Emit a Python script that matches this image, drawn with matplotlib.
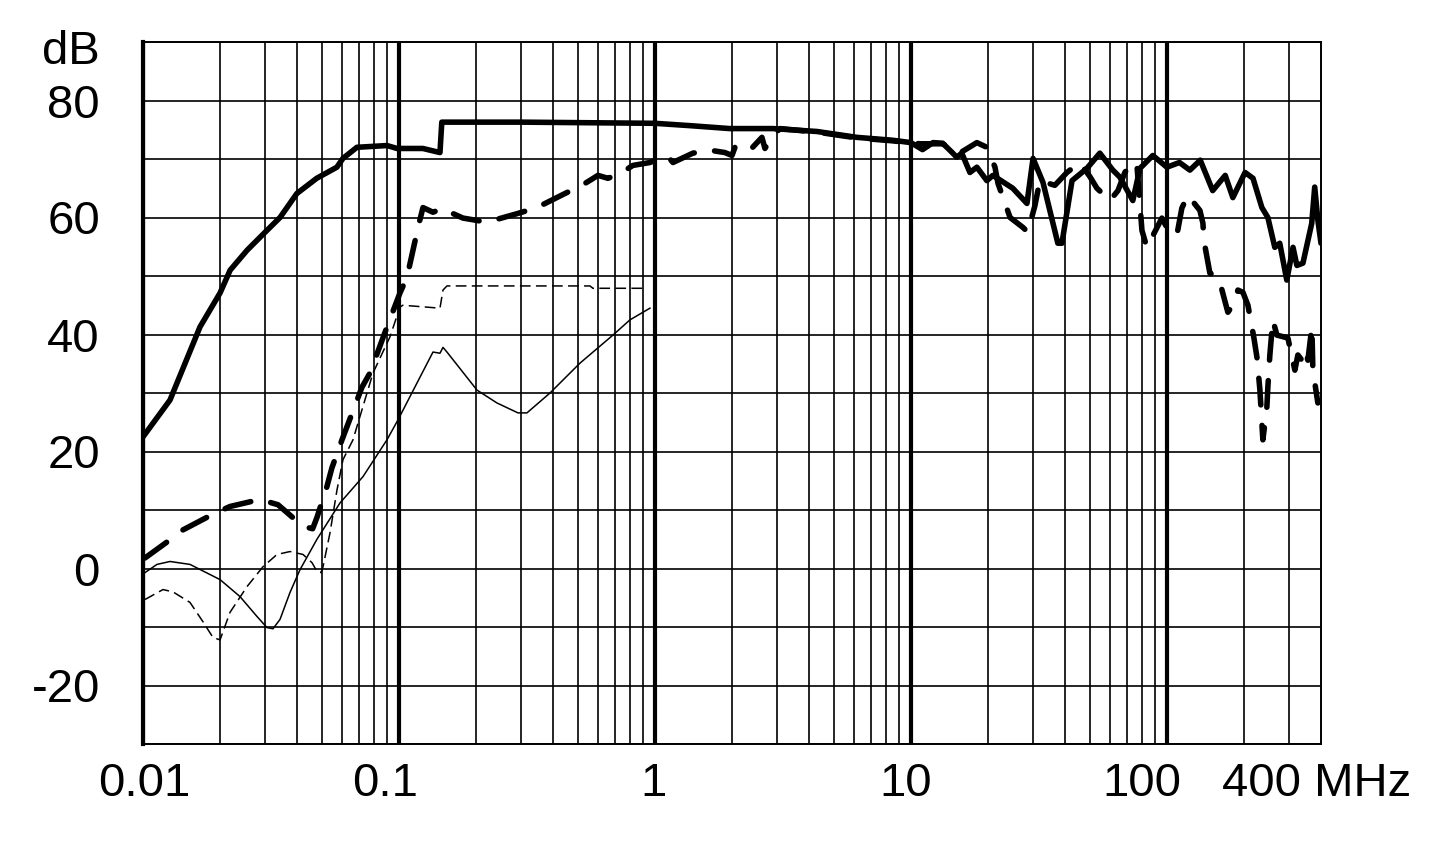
import matplotlib.pyplot as plt
from matplotlib.ticker import FixedLocator, NullFormatter

plt.rcParams['font.family'] = ['Liberation Sans', 'DejaVu Sans']

# ---- data (MHz, dB) ----
# thick solid curve
solid_f = [0.01, 0.01275, 0.0167, 0.0200, 0.0219, 0.0255, 0.0305, 0.0343, 0.0399,
           0.0477, 0.0572, 0.0604, 0.0685, 0.0898, 0.0983, 0.124, 0.1446, 0.147,
           0.30, 0.55, 1.0, 1.37, 1.96, 2.89, 4.30, 6.15, 8.5, 10.0, 11.1, 12.2,
           13.3, 14.5, 15.1, 15.8, 17.0, 18.1, 19.8, 20.9, 25.0, 28.4, 30.0, 32.8,
           37.5, 38.9, 42.6, 48.7, 54.7, 61.5, 65.5, 73.6, 78.5, 88.1, 100, 112,
           123, 135, 151, 169, 181, 202, 217, 235, 248, 264, 276, 294, 311, 322,
           340, 368, 378, 389, 400]
solid_db = [22.5, 28.8, 41.3, 47.1, 51.0, 54.4, 57.8, 60.0, 64.1,
            66.7, 68.6, 70.1, 72.0, 72.3, 71.8, 71.8, 71.1, 76.3,
            76.3, 76.2, 76.1, 75.7, 75.2, 75.2, 74.7, 73.7, 73.2, 72.8, 71.6, 72.8,
            72.7, 71.1, 70.3, 71.0, 67.7, 68.6, 66.3, 67.2, 65.0, 62.4, 70.1, 66.0,
            55.6, 55.6, 66.3, 68.4, 71.0, 68.1, 66.9, 62.9, 68.4, 70.6, 68.6, 69.4,
            68.1, 69.8, 64.6, 67.2, 63.4, 67.7, 66.7, 61.7, 60.0, 54.9, 55.6, 49.3, 54.9, 51.8,
            52.2, 59.0, 65.2, 59.5, 55.6]

# thick dashed curve
dash_f = [0.01018, 0.01275, 0.01433, 0.0186, 0.02187, 0.02864, 0.03368, 0.04217, 0.0460,
          0.0478, 0.0523, 0.0547, 0.0599, 0.0717, 0.0770, 0.0898, 0.1009, 0.1075,
          0.1187, 0.1241, 0.1358, 0.1486, 0.1582, 0.1778, 0.1894, 0.2207, 0.2917,
          0.346, 0.445, 0.5185, 0.599, 0.655, 0.730, 0.820, 0.956, 1.114, 1.176,
          1.407, 1.640, 1.877, 2.0, 2.054, 2.288, 2.350, 2.618, 2.690, 2.891, 3.08,
          4.30, 6.15, 8.5, 10.84, 13.3, 15.5, 18.1, 19.8, 21.3, 21.9, 24.4, 27.4,
          28.6, 30.5, 31.9, 36.5, 40.7, 45.7, 50.0, 53.3, 59.9, 64.4, 68.5, 73.6,
          76.3, 79.9, 83.5, 95.6, 102.7, 109.4, 114.4, 120.8, 134.6, 138.3, 139.5,
          147.2, 159.6, 173.1, 184.3, 189.4, 198.2, 207.3, 218.8, 224.8, 230.9,
          237.1, 245.8, 248.0, 252.5, 259.4, 268.9, 297.0, 316.2, 324.9, 336.8,
          346.0, 355.5, 368.5, 371.8, 388.9]
dash_db = [1.8, 4.9, 6.6, 9.2, 10.6, 11.8, 10.9, 7.2, 6.8,
           8.7, 14.0, 17.2, 22.0, 31.0, 33.4, 41.3, 47.1, 49.8,
           58.3, 61.7, 60.9, 61.6, 60.9, 59.9, 59.7, 59.2, 60.7,
           61.7, 64.1, 65.5, 67.2, 66.7, 67.5, 68.9, 69.4, 70.6, 69.4,
           71.0, 71.5, 71.1, 70.6, 72.0, 72.0, 71.5, 73.7, 71.8, 74.0, 75.2,
           74.6, 73.6, 73.1, 72.6, 72.6, 71.0, 72.8, 72.0, 68.6, 65.8, 60.0, 58.3,
           57.5, 62.0, 66.3, 65.5, 67.7, 69.4, 67.0, 65.0, 62.9, 64.6, 67.7, 69.4,
           69.2, 57.8, 54.9, 59.9, 57.3, 57.0, 61.6, 63.8, 61.2, 59.0, 56.1,
           50.5, 49.6, 43.8, 45.5, 47.6, 47.2, 45.0, 39.4, 36.1, 30.5,
           22.0, 27.6, 31.0, 36.5, 42.5, 39.9, 39.4, 33.9, 36.5, 35.6,
           37.3, 35.6, 41.3, 33.9, 28.3]

# thin dashed curve
tdash_f = [0.01018, 0.01197, 0.0131, 0.01526, 0.01715, 0.01877, 0.0200, 0.02187,
           0.02548, 0.02943, 0.03338, 0.03752, 0.04217, 0.04573, 0.04782, 0.0496,
           0.0505, 0.05377, 0.05725, 0.06043, 0.06612, 0.07914, 0.09222, 0.1009,
           0.1036, 0.1446, 0.1486, 0.154, 0.5572, 0.5726, 0.9307]
tdash_db = [-5.3, -3.6, -4.0, -5.8, -9.1, -11.8, -12.2, -7.5,
            -3.1, 0.3, 2.4, 2.9, 2.4, 1.0, -0.5, -0.7,
            0.3, 6.1, 13.4, 18.6, 22.0, 33.4, 39.6, 44.7,
            45.0, 44.5, 47.6, 48.3, 48.3, 47.9, 47.9]

# thin solid curve
tsolid_f = [0.01018, 0.01134, 0.01275, 0.01526, 0.0200, 0.02393, 0.02788, 0.0305,
            0.0322, 0.0343, 0.03752, 0.04106, 0.04782, 0.05882, 0.07234, 0.08977,
            0.0991, 0.1208, 0.1358, 0.1446, 0.1486, 0.154, 0.2017, 0.2414, 0.2917,
            0.3162, 0.389, 0.5093, 0.6854, 0.7986, 0.9561]
tsolid_db = [-0.7, 0.7, 1.2, 0.7, -1.9, -4.8, -8.2, -10.1,
             -10.3, -8.7, -4.1, -0.2, 5.0, 11.2, 15.7, 22.0,
             25.4, 32.7, 37.0, 36.8, 37.8, 37.0, 30.5, 28.3, 26.6,
             26.6, 30.0, 35.1, 39.9, 42.5, 44.5]

x_major = [0.01, 0.1, 1, 10, 100]
x_labels = ['0.01', '0.1', '1', '10', '100']
x_label_shift = [1, -10, -1, -4, -18]   # pt, labels sit a bit left in the original
x_minor = [m * d for d in [0.01, 0.1, 1, 10] for m in range(2, 10)] + [200, 300]
y_major = [-20, 0, 20, 40, 60, 80]
y_minor = [-30, -10, 10, 30, 50, 70, 90]

fig = plt.figure(figsize=(14.38, 8.56), dpi=100)
ax = fig.add_axes([143 / 1438, 1 - 744 / 856, 1178 / 1438, 702 / 856])

ax.set_xscale('log')
ax.set_xlim(0.01, 400)
ax.set_ylim(-30, 90)

ax.xaxis.set_major_locator(FixedLocator(x_major))
ax.xaxis.set_minor_locator(FixedLocator(x_minor))
ax.xaxis.set_major_formatter(NullFormatter())
ax.xaxis.set_minor_formatter(NullFormatter())
ax.yaxis.set_major_locator(FixedLocator(y_major))
ax.yaxis.set_minor_locator(FixedLocator(y_minor))
ax.set_yticklabels([str(v) for v in y_major])

ax.grid(which='major', axis='x', color='black', lw=3.0)
ax.grid(which='minor', axis='x', color='black', lw=1.2)
ax.grid(which='both', axis='y', color='black', lw=1.2)
ax.set_axisbelow(True)

ax.tick_params(which='both', length=0, labelsize=34)
ax.tick_params(axis='y', pad=31)

for side in ['top', 'bottom', 'right']:
    ax.spines[side].set_linewidth(1.4)
ax.spines['left'].set_linewidth(3.0)

ax.plot(tsolid_f, tsolid_db, color='black', lw=1.1)
ax.plot(tdash_f, tdash_db, color='black', lw=1.1, dashes=(7, 3.5))
ax.plot(dash_f, dash_db, color='black', lw=4, dashes=(4.8, 3.7),
        dash_capstyle='round')
ax.plot(solid_f, solid_db, color='black', lw=4, solid_capstyle='round',
        solid_joinstyle='round')

# x labels drawn by hand so each can sit where the original puts it
for xv, lab, dx in zip(x_major, x_labels, x_label_shift):
    ax.annotate(lab, xy=(xv, 0), xycoords=('data', 'axes fraction'),
                xytext=(dx, -13), textcoords='offset points',
                ha='center', va='top', fontsize=34)
ax.annotate('400 MHz', xy=((1222 - 143) / 1178, 0), xycoords='axes fraction',
            xytext=(0, -13), textcoords='offset points',
            ha='left', va='top', fontsize=34)

fig.text(100 / 1438, 1 - 52 / 856, 'dB', fontsize=34, ha='right', va='center')

fig.savefig('out.png', dpi=100)
